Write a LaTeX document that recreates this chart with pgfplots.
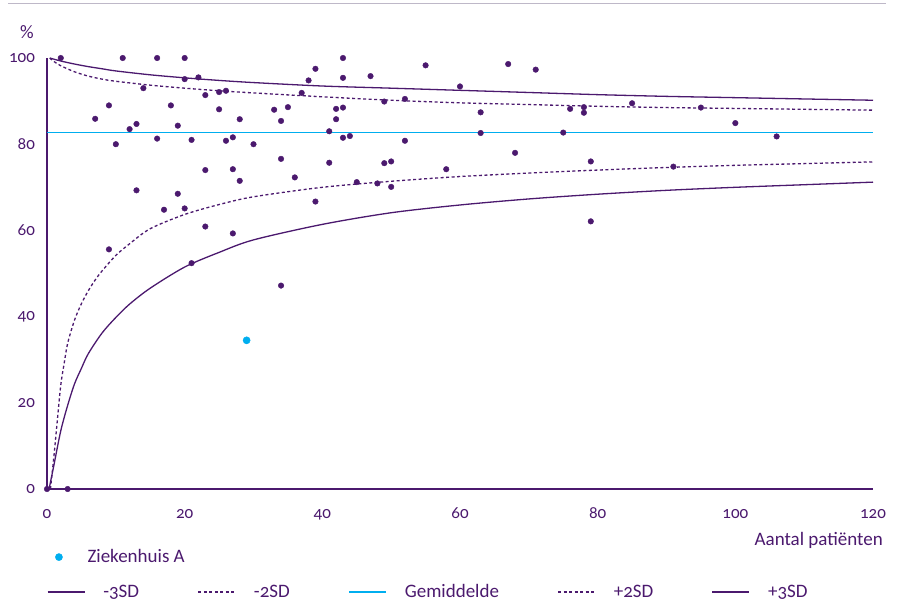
\documentclass[border=0pt]{standalone}
\usepackage{fontspec}
\setmainfont{Carlito}[Numbers=OldStyle]
\font\rawA="Carlito:+onum" at 17pt
\font\rawB="Carlito:+onum" at 19pt
\usepackage{pgfplots}
\pgfplotsset{compat=1.18}
\definecolor{fpurple}{RGB}{75,25,110}
\definecolor{fcyan}{RGB}{0,174,239}
\definecolor{fgray}{RGB}{190,184,200}

\pgfplotstableread{
n y
0.3 0
1 5.5
2 13.5
3 19.4
4 24.4
5 28.0
6 31.4
8 36.2
10 39.8
12 42.9
15 46.6
20 51.5
25 54.9
30 57.8
40 61.4
50 64.1
60 65.9
70 67.3
80 68.4
90 69.3
100 70.0
110 70.6
120 71.2
}\lowthree

\pgfplotstableread{
n y
0.5 0
1 7.5
1.5 15.9
2 24.1
2.5 29.2
3 33.8
4 39.2
5 43.0
6 46.0
7 48.5
8 50.6
10 54.2
12 56.9
15 60.4
20 63.7
25 66.0
30 67.8
40 70.0
50 71.4
60 72.5
70 73.3
80 74.0
90 74.6
100 75.1
110 75.5
120 75.9
}\lowtwo

\pgfplotstableread{
n y
0.4 100
1 99.2
2 98.2
4 96.8
6 95.8
8 95.1
10 94.6
15 93.7
20 93.0
25 92.4
30 91.9
40 91.0
50 90.2
60 89.6
70 89.2
80 88.8
90 88.5
100 88.3
110 88.1
120 87.9
}\uptwo

\pgfplotstableread{
n y
0.4 100
2 99.3
4 98.6
6 98.0
8 97.5
10 97.0
15 96.1
20 95.4
25 94.8
30 94.3
40 93.5
50 93.0
60 92.5
70 92.0
80 91.5
90 91.1
100 90.8
110 90.5
120 90.2
}\upthree

\pgfplotstableread{
n y
0 0
3 0
2 100
11 100
16 100
20 100
43 100
20 95.1
22 95.5
14 93.0
23 91.4
25 92.1
26 92.4
9 89.0
18 89.0
25 88.1
7 85.9
13 84.7
12 83.5
19 84.3
28 85.8
10 80.0
16 81.3
21 81.0
26 80.8
27 81.6
30 80.0
23 74.0
27 74.2
34 76.6
33 88.0
34 85.4
35 88.6
37 91.9
38 94.8
39 97.5
43 95.4
47 95.8
55 98.3
60 93.4
67 98.6
71 97.3
42 88.2
43 88.5
42 85.8
49 89.9
52 90.5
63 87.4
76 88.2
78 88.6
78 87.3
41 83.0
43 81.5
44 81.9
52 80.8
63 82.6
75 82.7
68 78.0
41 75.7
49 75.6
50 76.0
58 74.2
79 76.0
85 89.5
95 88.5
100 84.9
106 81.8
91 74.8
28 71.5
36 72.3
13 69.3
19 68.5
17 64.8
20 65.1
23 60.9
27 59.3
9 55.6
21 52.4
34 47.2
39 66.7
45 71.2
48 70.9
50 70.1
79 62.1
}\hospitals

\begin{document}
\begin{tikzpicture}[x=1pt,y=1pt]
\useasboundingbox (0,0) rectangle (900,-606);
\draw[fgray, line width=1.5pt] (8,-3.3) -- (886,-3.3);
\begin{axis}[
  at={(47pt,-489pt)}, anchor=south west,
  scale only axis, width=826pt, height=431pt,
  xmin=0, xmax=120, ymin=0, ymax=100,
  axis x line=bottom, axis y line=left,
  axis line style={-, fpurple, line width=1.3pt},
  xtick={0,20,...,120}, ytick={0,20,...,100},
  major tick length=0pt,
  /pgf/number format/assume math mode=true,
  xticklabel style={font={\color{fpurple}\rawA}, anchor=base, yshift=-29pt},
  yticklabel style={font={\color{fpurple}\rawA}, anchor=east, xshift=-8.5pt},
  every axis x label/.style={at={(axis description cs:1.0121,-0.130)}, anchor=base east, inner sep=0pt,
     font={\color{fpurple}\rawB}},
  every axis y label/.style={at={(axis description cs:-0.0157,1.0457)}, anchor=base east, inner sep=0pt,
     font={\color{fpurple}\rawB}},
  xlabel={Aantal patiënten}, ylabel={\%},
  clip=false,
  legend columns=5,
  legend image code/.code={\draw[#1] (0pt,0pt) -- (37pt,0pt);},
  legend style={at={(axis description cs:0,-0.239)}, anchor=west,
     draw=none, fill=none, inner sep=0pt, outer sep=0pt,
     font={\color{fpurple}\rawB},
     nodes={inner sep=0pt},
     /tikz/every odd column/.append style={column sep=18pt},
     /tikz/every even column/.append style={column sep=58.5pt}},
]
\addplot[fpurple, line width=1.3pt, smooth] table[x=n,y=y] {\lowthree};
\addlegendentry{-3SD}
\addplot[fpurple, line width=1.3pt, smooth, dash pattern=on 3pt off 2.5pt] table[x=n,y=y] {\lowtwo};
\addlegendentry{-2SD}
\addplot[fcyan, line width=1.5pt] coordinates {(0,82.7) (120,82.7)};
\addlegendentry{Gemiddelde}
\addplot[fpurple, line width=1.3pt, smooth, dash pattern=on 3pt off 2.5pt] table[x=n,y=y] {\uptwo};
\addlegendentry{+2SD}
\addplot[fpurple, line width=1.3pt, smooth] table[x=n,y=y] {\upthree};
\addlegendentry{+3SD}
\end{axis}
\begin{axis}[
  at={(47pt,-489pt)}, anchor=south west,
  scale only axis, width=826pt, height=431pt,
  xmin=0, xmax=120, ymin=0, ymax=100,
  hide axis, clip=false,
  legend style={at={(axis description cs:0.0101,-0.158)}, anchor=west,
     draw=none, fill=none, inner sep=0pt, outer sep=0pt,
     font={\color{fpurple}\rawB},
     nodes={inner sep=0pt},
     /tikz/every odd column/.append style={column sep=25pt}},
]
\addplot[only marks, mark=*, mark size=2.8pt, draw=fpurple, fill=fpurple, forget plot] table[x=n,y=y] {\hospitals};
\addplot[only marks, mark=*, mark size=3.6pt, draw=fcyan, fill=fcyan] coordinates {(29,34.5)};
\addlegendentry{Ziekenhuis A}
\end{axis}
\end{tikzpicture}
\end{document}
